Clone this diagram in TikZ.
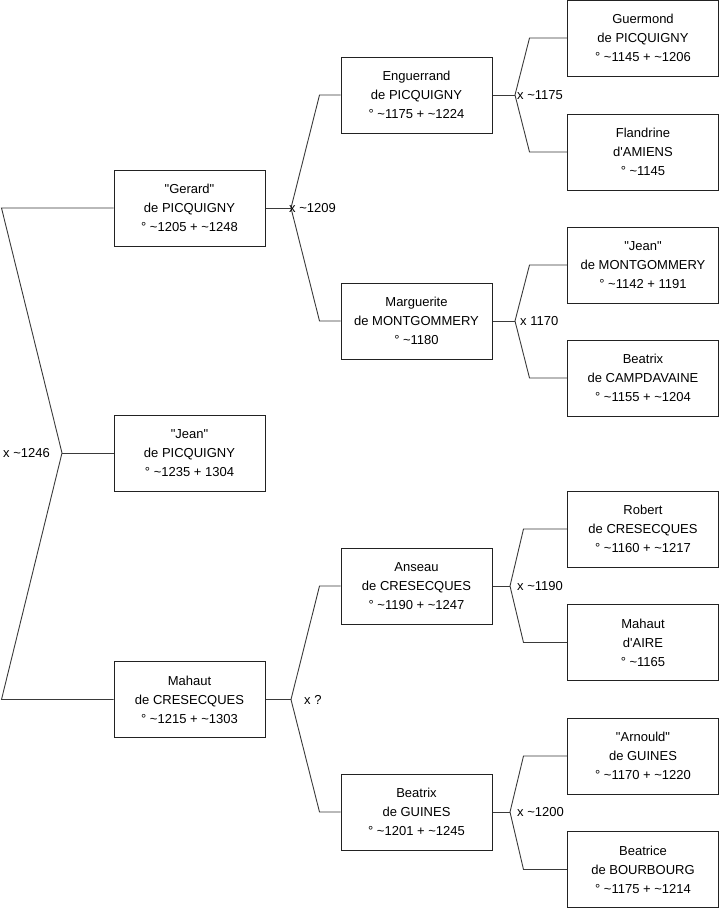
\documentclass[tikz,border=0pt]{standalone}
\usepackage{fontspec}
\newfontfamily\treefont{Liberation Sans}
\usetikzlibrary{positioning}
\definecolor{boxline}{HTML}{222222}
\definecolor{forkline}{HTML}{3A3A3A}
\newcommand{\ca}{\textasciitilde}

\begin{document}
\begin{tikzpicture}[x=1pt,y=-1pt,
  person/.style={draw=boxline,line width=1pt,fill=white,minimum width=151pt,minimum height=76pt,inner sep=0pt,align=center,font=\treefont\fontsize{13}{19}\selectfont},
  wed/.style={inner sep=0pt,font=\treefont\fontsize{13}{16}\selectfont},
  fork/.style={forkline,line width=0.9pt}]
  \useasboundingbox (0,0) rectangle (719,908);
  % generation 1
  \node[person] (gerard) at (189.5,208) {"Gerard"\\de PICQUIGNY\\° \ca1205 + \ca1248};
  \node[person] (jean) at (189.5,453) {"Jean"\\de PICQUIGNY\\° \ca1235 + 1304};
  \node[person] (mahaut) at (189.5,699.5) {Mahaut\\de CRESECQUES\\° \ca1215 + \ca1303};
  % generation 2
  \node[person] (enguerrand) at (416.5,95) {Enguerrand\\de PICQUIGNY\\° \ca1175 + \ca1224};
  \node[person] (marguerite) at (416.5,321) {Marguerite\\de MONTGOMMERY\\° \ca1180};
  \node[person] (anseau) at (416.5,586) {Anseau\\de CRESECQUES\\° \ca1190 + \ca1247};
  \node[person] (beatrix) at (416.5,812) {Beatrix\\de GUINES\\° \ca1201 + \ca1245};
  % generation 3
  \node[person] (guermond) at (643,38) {Guermond\\de PICQUIGNY\\° \ca1145 + \ca1206};
  \node[person] (flandrine) at (643,152) {Flandrine\\d'AMIENS\\° \ca1145};
  \node[person] (jeanm) at (643,265) {"Jean"\\de MONTGOMMERY\\° \ca1142 + 1191};
  \node[person] (beatrixc) at (643,378) {Beatrix\\de CAMPDAVAINE\\° \ca1155 + \ca1204};
  \node[person] (robert) at (643,529) {Robert\\de CRESECQUES\\° \ca1160 + \ca1217};
  \node[person] (mahauta) at (643,642.5) {Mahaut\\d'AIRE\\° \ca1165};
  \node[person] (arnould) at (643,756) {"Arnould"\\de GUINES\\° \ca1170 + \ca1220};
  \node[person] (beatrice) at (643,869.5) {Beatrice\\de BOURBOURG\\° \ca1175 + \ca1214};

  % marriage forks
  \coordinate (m0) at (62,453);
  \coordinate (m1) at (291,208);
  \coordinate (m2) at (291,699.5);
  \coordinate (m3) at (515,95);
  \coordinate (m4) at (515,321);
  \coordinate (m5) at (510,586);
  \coordinate (m6) at (510,812);

  \draw[fork] (gerard.west) -- ++(-112,0) -- (m0) -- ([xshift=-112pt]mahaut.west) -- (mahaut.west);
  \draw[fork] (m0) -- (jean.west);

  \draw[fork] (gerard.east) -- (m1);
  \draw[fork] (enguerrand.west) -- ++(-21,0) -- (m1) -- ([xshift=-21pt]marguerite.west) -- (marguerite.west);
  \draw[fork] (mahaut.east) -- (m2);
  \draw[fork] (anseau.west) -- ++(-21,0) -- (m2) -- ([xshift=-21pt]beatrix.west) -- (beatrix.west);

  \draw[fork] (enguerrand.east) -- (m3);
  \draw[fork] (guermond.west) -- ++(-37.5,0) -- (m3) -- ([xshift=-37.5pt]flandrine.west) -- (flandrine.west);
  \draw[fork] (marguerite.east) -- (m4);
  \draw[fork] (jeanm.west) -- ++(-37.5,0) -- (m4) -- ([xshift=-37.5pt]beatrixc.west) -- (beatrixc.west);
  \draw[fork] (anseau.east) -- (m5);
  \draw[fork] (robert.west) -- ++(-43.5,0) -- (m5) -- ([xshift=-43.5pt]mahauta.west) -- (mahauta.west);
  \draw[fork] (beatrix.east) -- (m6);
  \draw[fork] (arnould.west) -- ++(-43.5,0) -- (m6) -- ([xshift=-43.5pt]beatrice.west) -- (beatrice.west);

  % marriage dates
  \node[wed,anchor=east] (w0) at (50,453) {x \ca1246};
  \node[wed,anchor=west] (w1) at (289,208) {x \ca1209};
  \node[wed,anchor=west] (w2) at (304,699.5) {x ?};
  \node[wed,anchor=west] (w3) at (517,95) {x \ca1175};
  \node[wed,anchor=west] (w4) at (520,321) {x 1170};
  \node[wed,anchor=west] (w5) at (517,586) {x \ca1190};
  \node[wed,anchor=west] (w6) at (517,812) {x \ca1200};
\end{tikzpicture}
\end{document}
